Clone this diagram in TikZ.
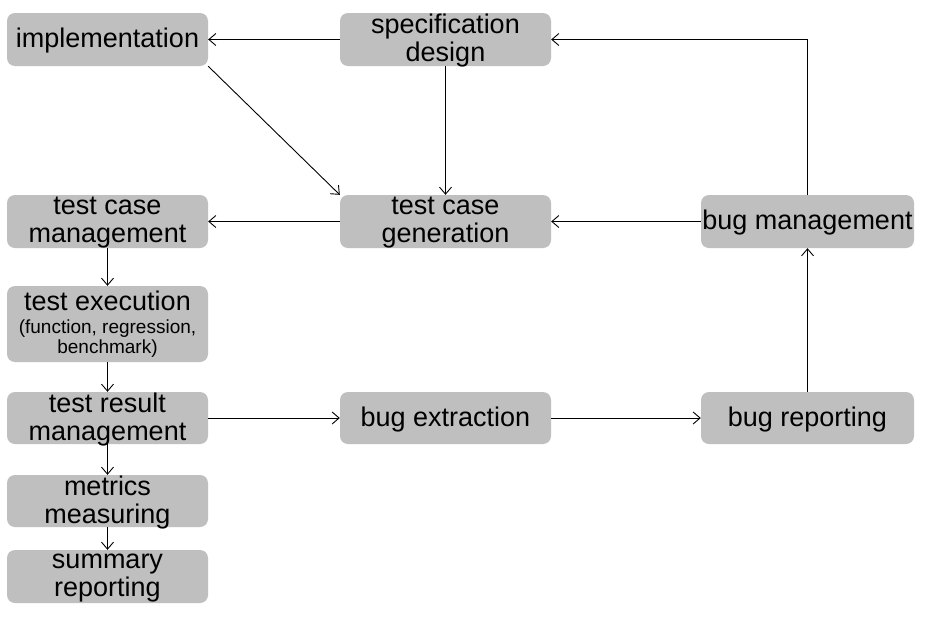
\documentclass[tikz,border=0pt]{standalone}
\usepackage{fontspec}
\setmainfont{Liberation Sans}
\usetikzlibrary{arrows.meta}
\tikzset{
  box/.style={draw=none, fill=boxgray, rounded corners=8pt, inner sep=0pt,
    align=center, font=\fontsize{27}{28}\selectfont, text=black, text depth=3pt},
  conn/.style={draw=black, line width=0.9pt, -{Straight Barb[length=7pt,width=12pt,line width=0.9pt]}}
}
\definecolor{boxgray}{HTML}{BFBFBF}
\begin{document}
\begin{tikzpicture}[x=1pt,y=-1pt]
\useasboundingbox (0,0) rectangle (929,622);
\fill[white] (0,0) rectangle (929,622);
\node[box, minimum width=201pt, minimum height=53pt] (impl) at (107.5,39.5) {implementation};
\node[box, minimum width=211pt, minimum height=53pt] (spec) at (445.5,39.5) {specification\\design};
\node[box, minimum width=201pt, minimum height=53pt] (tcm) at (107.5,221.5) {test case\\management};
\node[box, minimum width=211pt, minimum height=53pt] (tcg) at (445.5,221.5) {test case\\generation};
\node[box, minimum width=213pt, minimum height=53pt] (bm) at (807.5,221.5) {bug management};
\node[box, minimum width=201pt, minimum height=76pt] (te) at (107.5,324) {test execution\\[-5pt]{\fontsize{19}{20}\selectfont(function, regression,}\\[-8pt]{\fontsize{19}{20}\selectfont benchmark)}};
\node[box, minimum width=201pt, minimum height=52pt] (trm) at (107.5,418) {test result\\management};
\node[box, minimum width=211pt, minimum height=52pt] (be) at (445.5,418) {bug extraction};
\node[box, minimum width=213pt, minimum height=52pt] (br) at (807.5,418) {bug reporting};
\node[box, minimum width=201pt, minimum height=52pt] (mm) at (107.5,501) {metrics\\measuring};
\node[box, minimum width=201pt, minimum height=53pt] (sr) at (107.5,576.5) {summary\\reporting};

\draw[conn] (spec.west) -- (impl.east);
\draw[conn] (impl.south east) -- (tcg.north west);
\draw[conn] (spec.south) -- (tcg.north);
\draw[conn] (tcg.west) -- (tcm.east);
\draw[conn] (bm.west) -- (tcg.east);
\draw[conn] (bm.north) |- (spec.east);
\draw[conn] (tcm.south) -- (te.north);
\draw[conn] (te.south) -- (trm.north);
\draw[conn] (trm.east) -- (be.west);
\draw[conn] (be.east) -- (br.west);
\draw[conn] (br.north) -- (bm.south);
\draw[conn] (trm.south) -- (mm.north);
\draw[conn] (mm.south) -- (sr.north);
\end{tikzpicture}
\end{document}
